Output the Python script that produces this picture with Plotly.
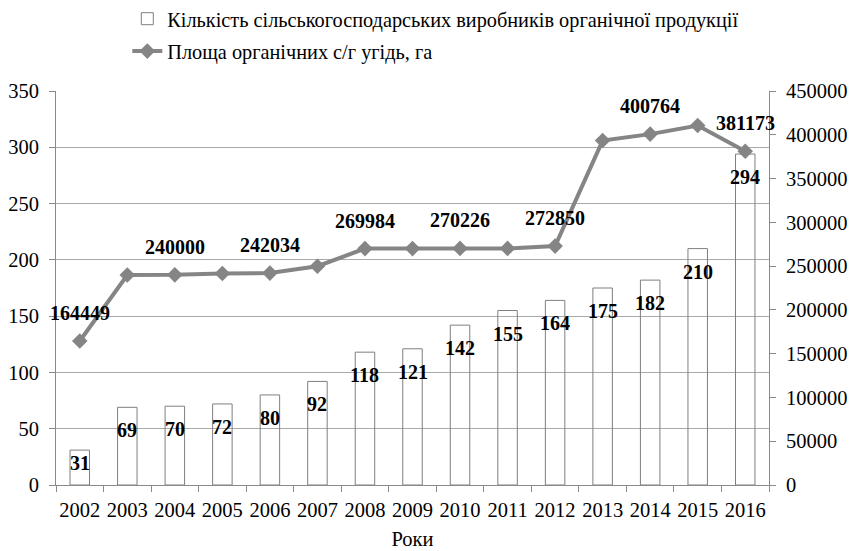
import plotly.graph_objects as go

# Years on the category axis
years = ["2002", "2003", "2004", "2005", "2006", "2007", "2008", "2009",
         "2010", "2011", "2012", "2013", "2014", "2015", "2016"]

# Number of agricultural producers of organic products (left axis)
producers = [31, 69, 70, 72, 80, 92, 118, 121, 142, 155, 164, 175, 182, 210, 294]

# Area of organic farmland, ha (right axis)
area_ha = [164449, 239800, 240000, 241600, 242034, 249900, 269984, 270000,
           270226, 270200, 272850, 393400, 400764, 410550, 381173]

bar_name = "Кількість сільськогосподарських виробників органічної продукції"
line_name = "Площа органічних с/г угідь, га"
x_title = "Роки"

W, H = 852, 551
M_L, M_R, M_T, M_B = 56, 83, 91, 66
Y_MAX, Y2_MAX = 350, 450000
plot_h = H - M_T - M_B

FONT = "'Liberation Serif', 'Times New Roman', serif"
GRID = "#a9a9a9"
AXIS = "#8a8a8a"
LINE = "#858585"
TICK_SIZE = 20.5
LABEL_SIZE = 20

fig = go.Figure()

fig.add_trace(go.Bar(
    x=years, y=producers, name=bar_name, width=0.41,
    marker=dict(color="rgba(255,255,255,0)", line=dict(color="#7f7f7f", width=1)),
    legendgroup="a", hoverinfo="skip",
))

fig.add_trace(go.Scatter(
    x=years, y=area_ha, name=line_name, yaxis="y2", mode="lines+markers",
    line=dict(color=LINE, width=4),
    marker=dict(symbol="diamond", size=12, color=LINE),
    legendgroup="b", hoverinfo="skip",
))

annotations = []
px_per_unit = plot_h / Y_MAX
# value labels inside the top of each bar (x given as category index)
for i, v in enumerate(producers):
    bar_px = v * px_per_unit
    shift = -min(23, bar_px - 22)
    annotations.append(dict(
        x=i, y=v, xref="x", yref="y", text=str(v), showarrow=False,
        yanchor="middle", yshift=shift,
        font=dict(family=FONT, size=LABEL_SIZE, color="black", weight="bold"),
    ))

# area labels above every second point of the line
for i, v in enumerate(area_ha):
    if i % 2 == 0:
        annotations.append(dict(
            x=i, y=v, xref="x", yref="y2", text=str(v), showarrow=False,
            yanchor="middle", yshift=28,
            font=dict(family=FONT, size=LABEL_SIZE, color="black", weight="bold"),
        ))

fig.update_layout(
    width=W, height=H,
    margin=dict(l=M_L, r=M_R, t=M_T, b=M_B, autoexpand=False),
    paper_bgcolor="white", plot_bgcolor="white",
    font=dict(family=FONT, size=TICK_SIZE, color="black"),
    showlegend=True,
    legend=dict(
        x=0.100, y=1 + (M_T + 1) / plot_h, xanchor="left", yanchor="top",
        orientation="v", traceorder="grouped", tracegroupgap=3,
        font=dict(family=FONT, size=20.3, color="black"),
        bgcolor="rgba(0,0,0,0)",
    ),
    xaxis=dict(
        type="category", range=[-0.5, len(years) - 0.5],
        tickson="boundaries", ticks="outside", ticklen=6, tickangle=0,
        ticklabelstandoff=6,
        tickcolor=AXIS, showline=True, linecolor=AXIS, linewidth=1,
        showgrid=False, tickfont=dict(family=FONT, size=TICK_SIZE),
        title=dict(text=x_title, font=dict(family=FONT, size=TICK_SIZE), standoff=12),
    ),
    yaxis=dict(
        range=[0, Y_MAX], dtick=50, ticks="outside", ticklen=6, tickcolor=AXIS,
        ticklabelstandoff=6,
        showline=True, linecolor=AXIS, linewidth=1,
        showgrid=True, gridcolor=GRID, gridwidth=1, zeroline=False,
        tickfont=dict(family=FONT, size=TICK_SIZE),
    ),
    yaxis2=dict(
        range=[0, Y2_MAX], dtick=50000, overlaying="y", side="right",
        ticks="outside", ticklen=6, tickcolor=AXIS, ticklabelstandoff=6,
        showline=True, linecolor=AXIS, linewidth=1,
        showgrid=False, zeroline=False, tickformat="d",
        tickfont=dict(family=FONT, size=TICK_SIZE),
    ),
    annotations=annotations,
)

fig.write_html("out.html")
